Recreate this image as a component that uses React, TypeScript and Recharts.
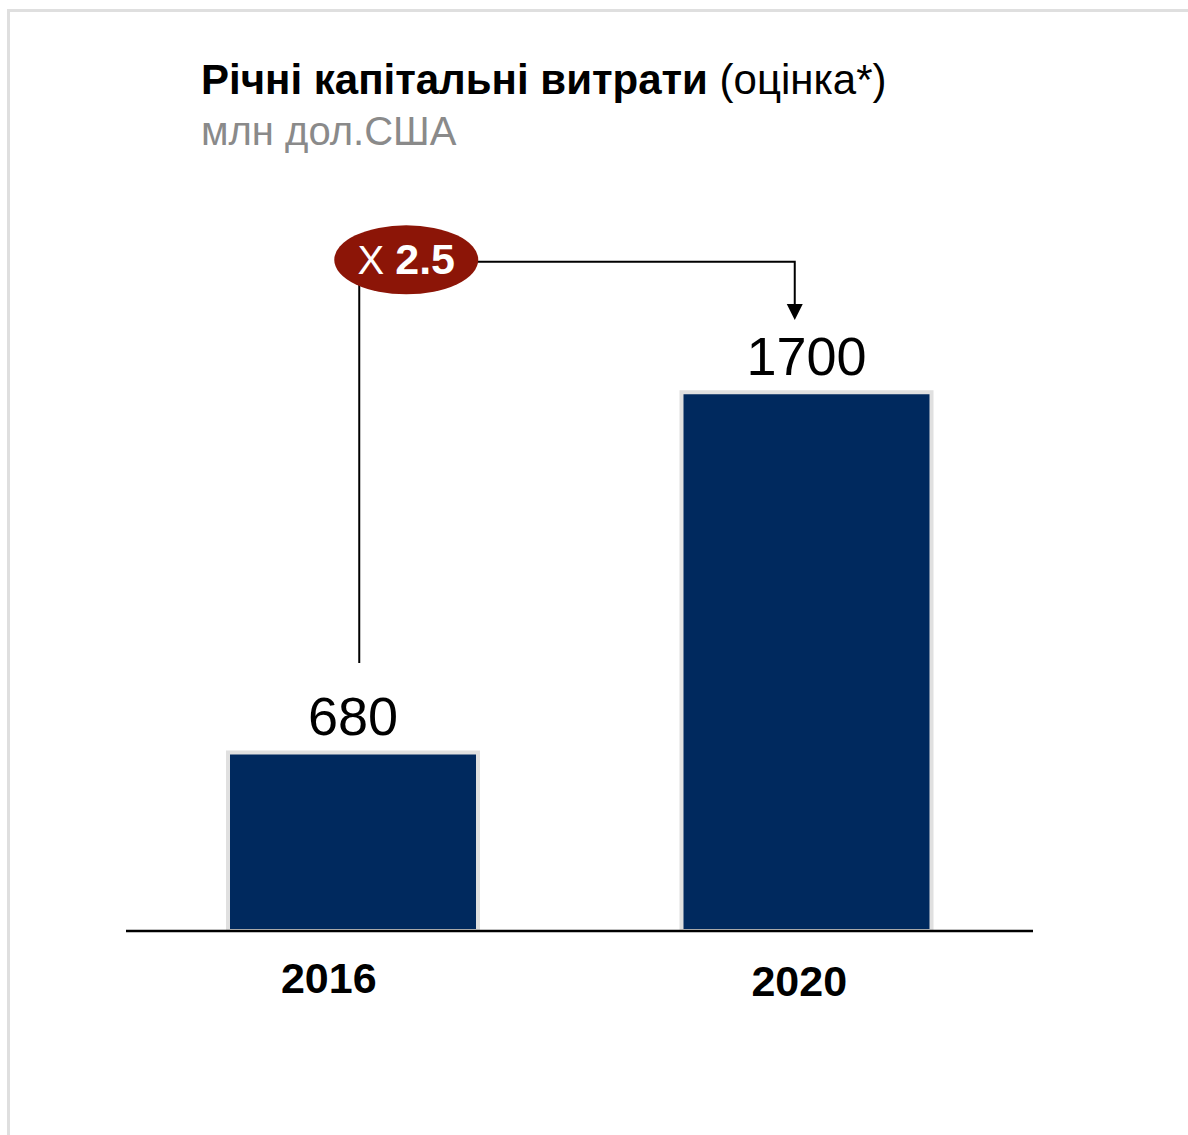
import React from "react";
import { Bar, BarChart, LabelList, ReferenceDot, ReferenceLine, XAxis, YAxis } from "recharts";

// categories and values
const years = ["2016", "2020"];
const capex = [680, 1700];
const growthLabel = "2.5";

// annotation anchors, in value units of the (cropped) y scale
const yDomain: [number, number] = [174, 2160];
const bracketLevel = 2070;
const stemBottom = 933;
const arrowTip = 1905;

const data = years.map((year, i) => ({ year, capex: capex[i] }));

const FONT = "'Liberation Sans', Arial, Helvetica, sans-serif";
const NAVY = "#00295e";
const BADGE = "#8c1507";

// the slide's year labels sit a little left of the bar centres
const tickShift = [
  { dx: -24, dy: 54 },
  { dx: -7, dy: 57 },
];

function YearTick(props: any) {
  const { x, y, payload, index } = props;
  const s = tickShift[index] || tickShift[0];
  return (
    <text x={x + s.dx} y={y + s.dy} textAnchor="middle" fontFamily={FONT} fontSize={43} fontWeight={700} fill="#000">
      {payload.value}
    </text>
  );
}

function Stem(props: any) {
  const { x1, y1, y2 } = props;
  return <line x1={x1 + 6.5} y1={y1} x2={x1 + 6.5} y2={y2} stroke="#000" strokeWidth={2} />;
}

function Elbow(props: any) {
  const { x1, y1, x2, y2 } = props;
  const ax = x2 - 11.5;
  return (
    <g>
      <path d={`M ${x1 + 120} ${y1} H ${ax} V ${y2 - 14}`} fill="none" stroke="#000" strokeWidth={2} />
      <polygon points={`${ax - 8},${y2 - 16} ${ax + 8},${y2 - 16} ${ax},${y2}`} fill="#000" />
    </g>
  );
}

function Badge(props: any) {
  const { cx, cy } = props;
  const ex = cx + 53.5;
  const ey = cy - 2;
  return (
    <g>
      <ellipse cx={ex} cy={ey} rx={72} ry={34.5} fill={BADGE} />
      <text x={ex} y={ey + 14} textAnchor="middle" fontFamily={FONT} fill="#fff">
        <tspan fontSize={40}>X </tspan>
        <tspan fontSize={43} fontWeight={700}>
          {growthLabel}
        </tspan>
      </text>
    </g>
  );
}

export default function App() {
  return (
    <div style={{ position: "fixed", left: 0, top: 0, width: 1188, height: 1135, overflow: "hidden", background: "#fff" }}>
      <div
        style={{
          position: "absolute",
          left: 7,
          top: 9,
          width: 1400,
          height: 1400,
          border: "3px solid #dfdfdf",
        }}
      />
      <div style={{ position: "absolute", left: 201, top: 59, fontFamily: FONT, fontSize: 42, lineHeight: "42px", color: "#000", whiteSpace: "nowrap" }}>
        <span style={{ fontWeight: 700 }}>Річні капітальні витрати</span> (оцінка*)
      </div>
      <div style={{ position: "absolute", left: 201, top: 111, fontFamily: FONT, fontSize: 40, lineHeight: "40px", color: "#8a8a8a", whiteSpace: "nowrap" }}>
        млн дол.США
      </div>
      <div style={{ position: "absolute", left: 0, top: 0 }}>
        <BarChart width={1188} height={1135} data={data} margin={{ top: 230, right: 155, bottom: 144, left: 126 }}>
          <XAxis
            dataKey="year"
            height={60}
            axisLine={{ stroke: "#000", strokeWidth: 2.5 }}
            tickLine={false}
            tick={<YearTick />}
            interval={0}
          />
          <YAxis hide domain={yDomain} allowDataOverflow />
          <Bar dataKey="capex" fill={NAVY} stroke="#e0e0e0" strokeWidth={4} barSize={250} isAnimationActive={false}>
            <LabelList dataKey="capex" position="top" offset={17} fontFamily={FONT} fontSize={54} fill="#000" />
          </Bar>
          <ReferenceLine
            segment={[
              { x: years[0], y: stemBottom },
              { x: years[0], y: bracketLevel },
            ]}
            shape={<Stem />}
          />
          <ReferenceLine
            segment={[
              { x: years[0], y: bracketLevel },
              { x: years[1], y: arrowTip },
            ]}
            shape={<Elbow />}
          />
          <ReferenceDot x={years[0]} y={bracketLevel} shape={<Badge />} />
        </BarChart>
      </div>
    </div>
  );
}
